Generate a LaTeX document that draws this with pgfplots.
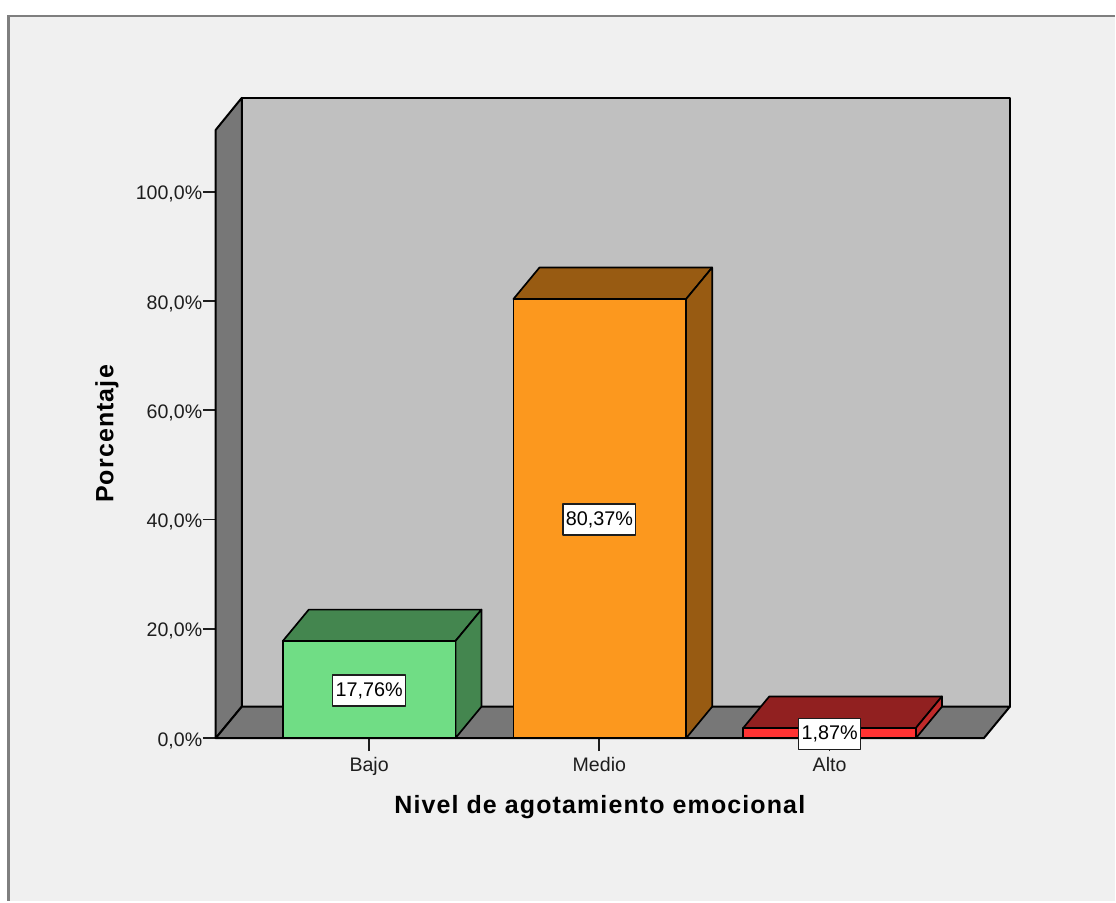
\documentclass[border=0pt]{standalone}
\usepackage{pgfplots}
\pgfplotsset{compat=1.18}
\usepackage{fontspec}
\setmainfont{Liberation Sans}
\newfontfamily\titlefont[LetterSpace=4.5]{Liberation Sans}
\definecolor{panel}{HTML}{F0F0F0}
\definecolor{frameline}{HTML}{7F7F7F}
\definecolor{wall}{HTML}{C0C0C0}
\definecolor{floorgray}{HTML}{777777}
\definecolor{inktext}{HTML}{1E1E1E}
\definecolor{greenfront}{HTML}{70DD85}
\definecolor{greenshade}{HTML}{44864F}
\definecolor{orangefront}{HTML}{FC981E}
\definecolor{orangeshade}{HTML}{985B12}
\definecolor{redfront}{HTML}{FF3333}
\definecolor{redshade}{HTML}{912020}
\definecolor{redside}{HTML}{C02A2A}
\begin{document}
\begin{tikzpicture}[x=1pt,y=1pt]
% outer page and chart panel
\fill[white] (-216,-163) rectangle (900,739);
\fill[panel] (-207.5,-163) rectangle (900,723);
\draw[frameline,line width=2.6pt] (-207.5,-163) -- (-207.5,723) -- (900,723);
\begin{axis}[
  at={(0,0)}, anchor=south west,
  scale only axis, width=769pt, height=609pt,
  xmin=-0.666, xmax=2.670, ymin=0, ymax=111.33,
  clip=false,
  axis lines*=left,
  axis line style={black,line width=2pt,-},
  xtick={0,1,2}, xticklabels={Bajo,Medio,Alto},
  ytick={0,20,40,60,80,100},
  yticklabels={{0,0\%},{20,0\%},{40,0\%},{60,0\%},{80,0\%},{100,0\%}},
  tick align=outside,
  major tick length=13pt,
  tick style={inktext,line width=1.7pt},
  xtick pos=bottom, ytick pos=left,
  ticklabel style={font=\fontsize{19.6}{22}\selectfont,text=inktext},
  y tick label style={xshift=3pt,yshift=-2.5pt},
  x tick label style={yshift=-2.5pt},
  every axis x label/.style={at={(axis description cs:0.5,0)},anchor=center,yshift=-69.5pt},
  every axis y label/.style={at={(axis description cs:0,0.5)},anchor=center,rotate=90,yshift=109pt},
  xlabel={\titlefont\fontsize{25}{29}\selectfont\bfseries Nivel de agotamiento emocional},
  ylabel={\titlefont\fontsize{25}{29}\selectfont\bfseries Porcentaje},
  /tikz/line join=round,
]
% back wall, left wall and floor of the box
\addplot[fill=wall,draw=black,line width=2pt] coordinates {(-0.553,5.76)(2.783,5.76)(2.783,117.18)(-0.553,117.18)} --cycle;
\addplot[fill=floorgray,draw=black,line width=2pt] coordinates {(-0.666,0)(-0.553,5.76)(-0.553,117.18)(-0.666,111.33)} --cycle;
\addplot[fill=floorgray,draw=black,line width=2pt] coordinates {(-0.666,0)(2.670,0)(2.783,5.76)(-0.553,5.76)} --cycle;

% Bajo: 17,76 %
\addplot[fill=greenshade,draw=black,line width=1.7pt] coordinates {(-0.375,17.76)(0.375,17.76)(0.488,23.52)(-0.262,23.52)} --cycle;
\addplot[fill=greenshade,draw=black,line width=1.7pt] coordinates {(0.375,0)(0.488,5.76)(0.488,23.52)(0.375,17.76)} --cycle;
\addplot[fill=greenfront,draw=black,line width=1.7pt] coordinates {(-0.375,0)(0.375,0)(0.375,17.76)(-0.375,17.76)} --cycle;

% Medio: 80,37 %
\addplot[fill=orangeshade,draw=black,line width=1.7pt] coordinates {(0.627,80.37)(1.377,80.37)(1.490,86.13)(0.740,86.13)} --cycle;
\addplot[fill=orangeshade,draw=black,line width=1.7pt] coordinates {(1.377,0)(1.490,5.76)(1.490,86.13)(1.377,80.37)} --cycle;
\addplot[fill=orangefront,draw=black,line width=1.7pt] coordinates {(0.627,0)(1.377,0)(1.377,80.37)(0.627,80.37)} --cycle;

% Alto: 1,87 %
\addplot[fill=redshade,draw=black,line width=1.7pt] coordinates {(1.625,1.87)(2.375,1.87)(2.488,7.63)(1.738,7.63)} --cycle;
\addplot[fill=redside,draw=black,line width=1.7pt] coordinates {(2.375,0)(2.488,5.76)(2.488,7.63)(2.375,1.87)} --cycle;
\addplot[fill=redfront,draw=black,line width=1.7pt] coordinates {(1.625,0)(2.375,0)(2.375,1.87)(1.625,1.87)} --cycle;

% value labels at mid-height of each bar
\begin{scope}[every node/.style={fill=white,draw=inktext,line width=1.3pt,text=black,inner xsep=2.8pt,inner ysep=0pt,minimum height=31pt,yshift=-1pt,font=\fontsize{19.8}{22}\selectfont}]
\node at (axis cs:0,8.88) {17,76\%};
\node at (axis cs:1,40.185) {80,37\%};
\node at (axis cs:2,0.935) {1,87\%};
\end{scope}
\end{axis}
\end{tikzpicture}
\end{document}
